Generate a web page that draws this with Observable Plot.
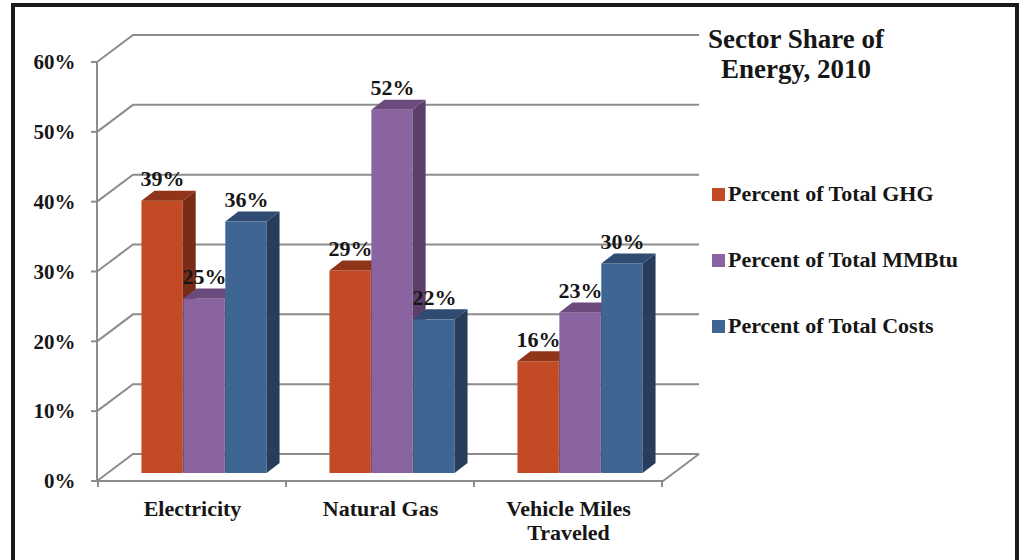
<!DOCTYPE html>
<html>
<head>
<meta charset="utf-8">
<script src="https://cdn.jsdelivr.net/npm/d3@7"></script>
<script src="https://cdn.jsdelivr.net/npm/@observablehq/plot@0.6"></script>
<style>
  html, body { margin: 0; padding: 0; background: #fff; overflow: hidden; }
  #wrap {
    position: relative; width: 1026px; height: 560px;
    font-family: "Liberation Serif", "Times New Roman", serif;
    font-weight: bold; color: #161616;
  }
  #chart { position: absolute; left: 0; top: 0; }
  #border {
    position: absolute; left: 11px; top: 3px; width: 1000px; height: 620px;
    border: 4px solid #1a1a1a; pointer-events: none;
  }
  #title {
    position: absolute; left: 696px; top: 24px; width: 200px;
    text-align: center; font-size: 27px; line-height: 30px;
  }
  .swatch { position: absolute; left: 712px; width: 13px; height: 13px; }
  .entry { position: absolute; left: 728px; font-size: 22px; line-height: 22px; white-space: nowrap; }
</style>
</head>
<body>
<div id="wrap">
  <div id="chart"></div>
  <div id="border"></div>
  <div id="title">Sector Share of<br>Energy, 2010</div>
  <div id="legend"></div>
</div>
<script>
// Sector share of energy, 2010
const categories = ["Electricity", "Natural Gas", "Vehicle Miles Traveled"];
const categoryLabels = ["Electricity", "Natural Gas", "Vehicle Miles\nTraveled"];
const seriesNames = ["Percent of Total GHG", "Percent of Total MMBtu", "Percent of Total Costs"];
const ghgShare = [0.39, 0.29, 0.16];
const mmbtuShare = [0.25, 0.52, 0.23];
const costShare = [0.36, 0.22, 0.30];
const yTicks = [0, 0.1, 0.2, 0.3, 0.4, 0.5, 0.6];

// face colours per series: front, top, side
const frontColors = ["#c24b26", "#8a63a1", "#3f6593"];
const topColors = ["#90341a", "#6b4b7d", "#2f4b71"];
const sideColors = ["#7a2b15", "#5b3f6b", "#283c5b"];
const gridColor = "#8c8c8c";
const textColor = "#161616";

const seriesValues = [ghgShare, mmbtuShare, costShare];
const rows = categories.flatMap((category, i) =>
  seriesNames.map((series, s) => ({category, series, s, value: seriesValues[s][i]}))
);

// layout
const W = 1026, H = 560;
const margin = {top: 62, right: 363, bottom: 79, left: 97};
const bandW = (W - margin.left - margin.right) / categories.length;
const barW = bandW * 2 / 9;
const groupPad = bandW / 6;
const wall = {dx: 36, dy: -27};      // back wall offset
const barShift = {dx: 12, dy: -8};   // bars stand part way into the floor
const depth = {dx: 13, dy: -10};     // bar thickness

// back wall, floor, axis line and ticks
function wallRender(index, scales, values, dims) {
  const x0 = dims.marginLeft, x1 = dims.width - dims.marginRight;
  const y0 = scales.y(0), yTop = scales.y(d3.max(yTicks));
  const g = d3.create("svg:g")
    .attr("fill", "none").attr("stroke", gridColor).attr("stroke-width", 2);
  for (const i of index) {
    const y = values.y[i];
    g.append("path").attr("d", `M${x0},${y}L${x0 + wall.dx},${y + wall.dy}H${x1 + wall.dx}`);
    g.append("path").attr("d", `M${x0 - 6},${y}H${x0}`);
  }
  g.append("path").attr("d", `M${x0},${y0}H${x1}L${x1 + wall.dx},${y0 + wall.dy}`);
  g.append("path").attr("d", `M${x0},${yTop}V${y0}`);
  const edges = scales.x.domain().map(c => scales.x(c));
  edges.push(edges[edges.length - 1] + scales.x.bandwidth());
  for (const x of edges) g.append("path").attr("d", `M${x},${y0}V${y0 + 6}`);
  return g.node();
}

// adds the top and side faces to each front rect
function faces(s) {
  return (index, scales, values, dims, context, next) => {
    const g = next(index, scales, values, dims, context);
    d3.select(g).selectAll("rect").each(function () {
      const r = d3.select(this);
      const x = +r.attr("x"), y = +r.attr("y"), w = +r.attr("width"), h = +r.attr("height");
      const {dx, dy} = depth;
      d3.select(g).append("path")
        .attr("fill", sideColors[s])
        .attr("d", `M${x + w},${y}L${x + w + dx},${y + dy}V${y + h + dy}L${x + w},${y + h}Z`);
      d3.select(g).append("path")
        .attr("fill", topColors[s])
        .attr("d", `M${x},${y}L${x + dx},${y + dy}H${x + w + dx}L${x + w},${y}Z`);
    });
    return g;
  };
}

const barMarks = seriesNames.map((name, s) => {
  const insetLeft = groupPad + s * barW;
  return Plot.barY(rows.filter(d => d.s === s), {
    x: "category", y: "value", fill: frontColors[s],
    insetLeft, insetRight: bandW - insetLeft - barW,
    dx: barShift.dx, dy: barShift.dy,
    render: faces(s)
  });
});

const labelMarks = seriesNames.map((name, s) =>
  Plot.text(rows.filter(d => d.s === s), {
    x: "category", y: "value", text: d => d3.format(".0%")(d.value),
    dx: (s - 1) * barW + barShift.dx, dy: barShift.dy - 22,
    fontSize: 22, fontWeight: "bold", fill: textColor, lineAnchor: "middle"
  })
);

const chart = Plot.plot({
  width: W, height: H,
  marginTop: margin.top, marginRight: margin.right,
  marginBottom: margin.bottom, marginLeft: margin.left,
  style: {fontFamily: "Liberation Serif, Times New Roman, serif", fontWeight: "bold", color: textColor, background: "transparent", overflow: "visible"},
  x: {type: "band", domain: categories, padding: 0, axis: null},
  y: {domain: [0, 0.6]},
  marks: [
    Plot.ruleY(yTicks, {y: d => d, render: wallRender}),
    ...barMarks,
    ...labelMarks,
    Plot.axisY({ticks: yTicks, tickFormat: d3.format(".0%"), tickSize: 0, tickPadding: 22,
                fontSize: 21, fontWeight: "bold", label: null}),
    Plot.text(categories, {
      x: d => d, text: (d, i) => categoryLabels[i],
      frameAnchor: "bottom", lineAnchor: "top", dy: 17, lineHeight: 1.1,
      fontSize: 22, fontWeight: "bold", fill: textColor
    })
  ]
});
document.getElementById("chart").append(chart);

// legend
const legend = document.getElementById("legend");
const rowTops = [188, 254, 320];
seriesNames.forEach((name, s) => {
  const sw = document.createElement("div");
  sw.className = "swatch";
  sw.style.top = rowTops[s] + "px";
  sw.style.background = frontColors[s];
  legend.append(sw);
  const t = document.createElement("div");
  t.className = "entry";
  t.style.top = (rowTops[s] - 5) + "px";
  t.textContent = name;
  legend.append(t);
});
</script>
</body>
</html>
